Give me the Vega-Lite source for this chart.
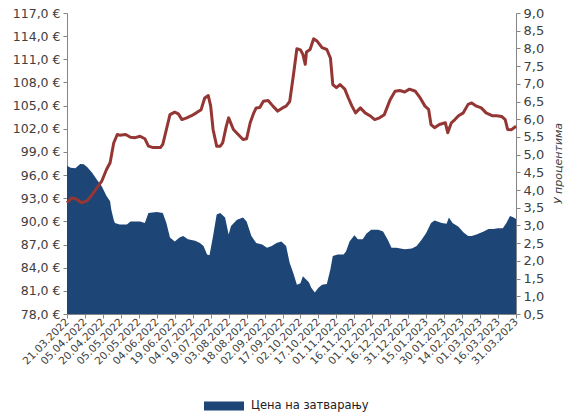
{
  "$schema": "https://vega.github.io/schema/vega-lite/v6.json",
  "autosize": {"type": "none"},
  "padding": {"left": 67, "top": 13, "right": 52, "bottom": 101},
  "width": 449,
  "height": 301,
  "background": "white",
  "config": {
    "view": {"stroke": null},
    "font": "DejaVu Sans",
    "axis": {"grid": false, "domainColor": "#868686", "tickColor": "#868686", "labelColor": "#404040", "labelFont": "DejaVu Sans", "tickSize": 4},
    "axisX": {"labelOverlap": false, "labelBound": false, "labelFlush": false}
  },
  "datasets": {
    "price": [
      {"date": "2022-03-21", "price": 97.2}, {"date": "2022-03-24", "price": 96.95}, {"date": "2022-03-28", "price": 96.9},
      {"date": "2022-04-01", "price": 97.45}, {"date": "2022-04-04", "price": 97.4}, {"date": "2022-04-07", "price": 97.0},
      {"date": "2022-04-11", "price": 96.3}, {"date": "2022-04-15", "price": 95.4}, {"date": "2022-04-19", "price": 94.55},
      {"date": "2022-04-23", "price": 93.3}, {"date": "2022-04-26", "price": 92.6}, {"date": "2022-04-27", "price": 91.5},
      {"date": "2022-04-29", "price": 90.2}, {"date": "2022-04-30", "price": 89.8}, {"date": "2022-05-04", "price": 89.6},
      {"date": "2022-05-10", "price": 89.6}, {"date": "2022-05-13", "price": 90.0}, {"date": "2022-05-21", "price": 90.0},
      {"date": "2022-05-25", "price": 89.8}, {"date": "2022-05-28", "price": 91.1}, {"date": "2022-06-04", "price": 91.2},
      {"date": "2022-06-09", "price": 91.1}, {"date": "2022-06-12", "price": 89.8}, {"date": "2022-06-15", "price": 87.9},
      {"date": "2022-06-19", "price": 87.4}, {"date": "2022-06-23", "price": 87.9}, {"date": "2022-06-26", "price": 88.1},
      {"date": "2022-06-30", "price": 87.7}, {"date": "2022-07-06", "price": 87.5}, {"date": "2022-07-10", "price": 87.2},
      {"date": "2022-07-13", "price": 86.8}, {"date": "2022-07-16", "price": 85.7}, {"date": "2022-07-18", "price": 85.6},
      {"date": "2022-07-21", "price": 88.1}, {"date": "2022-07-24", "price": 90.9}, {"date": "2022-07-27", "price": 91.1},
      {"date": "2022-07-31", "price": 90.5}, {"date": "2022-08-03", "price": 88.3}, {"date": "2022-08-05", "price": 89.4},
      {"date": "2022-08-10", "price": 90.2}, {"date": "2022-08-15", "price": 90.5}, {"date": "2022-08-18", "price": 90.0},
      {"date": "2022-08-22", "price": 88.1}, {"date": "2022-08-26", "price": 87.2}, {"date": "2022-08-31", "price": 87.0},
      {"date": "2022-09-04", "price": 86.6}, {"date": "2022-09-08", "price": 86.8}, {"date": "2022-09-12", "price": 87.2},
      {"date": "2022-09-16", "price": 87.4}, {"date": "2022-09-20", "price": 86.8}, {"date": "2022-09-23", "price": 84.6},
      {"date": "2022-09-26", "price": 83.3}, {"date": "2022-09-29", "price": 81.8}, {"date": "2022-10-02", "price": 82.0},
      {"date": "2022-10-04", "price": 82.9}, {"date": "2022-10-09", "price": 82.1}, {"date": "2022-10-11", "price": 81.4},
      {"date": "2022-10-14", "price": 80.8}, {"date": "2022-10-17", "price": 81.4}, {"date": "2022-10-20", "price": 81.8},
      {"date": "2022-10-24", "price": 81.9}, {"date": "2022-10-27", "price": 83.8}, {"date": "2022-10-29", "price": 85.5},
      {"date": "2022-11-02", "price": 85.7}, {"date": "2022-11-07", "price": 85.7}, {"date": "2022-11-09", "price": 86.1},
      {"date": "2022-11-12", "price": 87.4}, {"date": "2022-11-16", "price": 88.2}, {"date": "2022-11-19", "price": 87.7},
      {"date": "2022-11-23", "price": 87.7}, {"date": "2022-11-26", "price": 88.4}, {"date": "2022-11-30", "price": 88.9},
      {"date": "2022-12-06", "price": 88.9}, {"date": "2022-12-10", "price": 88.7}, {"date": "2022-12-14", "price": 87.6},
      {"date": "2022-12-17", "price": 86.6}, {"date": "2022-12-21", "price": 86.6}, {"date": "2022-12-28", "price": 86.4},
      {"date": "2023-01-03", "price": 86.5}, {"date": "2023-01-07", "price": 86.8}, {"date": "2023-01-11", "price": 87.6},
      {"date": "2023-01-15", "price": 88.5}, {"date": "2023-01-19", "price": 89.8}, {"date": "2023-01-22", "price": 90.1},
      {"date": "2023-01-28", "price": 89.8}, {"date": "2023-02-01", "price": 89.7}, {"date": "2023-02-03", "price": 90.5},
      {"date": "2023-02-06", "price": 89.8}, {"date": "2023-02-11", "price": 89.3}, {"date": "2023-02-15", "price": 88.6},
      {"date": "2023-02-19", "price": 88.1}, {"date": "2023-02-22", "price": 88.1}, {"date": "2023-02-26", "price": 88.3},
      {"date": "2023-03-04", "price": 88.7}, {"date": "2023-03-08", "price": 89.0}, {"date": "2023-03-12", "price": 89.0},
      {"date": "2023-03-16", "price": 89.1}, {"date": "2023-03-20", "price": 89.1}, {"date": "2023-03-23", "price": 89.8},
      {"date": "2023-03-26", "price": 90.7}, {"date": "2023-03-29", "price": 90.5}, {"date": "2023-03-31", "price": 90.3}
    ],
    "yield": [
      {"date": "2022-03-21", "y": 3.64}, {"date": "2022-03-25", "y": 3.78}, {"date": "2022-03-29", "y": 3.74},
      {"date": "2022-04-02", "y": 3.64}, {"date": "2022-04-07", "y": 3.7}, {"date": "2022-04-11", "y": 3.87},
      {"date": "2022-04-15", "y": 4.06}, {"date": "2022-04-19", "y": 4.25}, {"date": "2022-04-23", "y": 4.58},
      {"date": "2022-04-26", "y": 4.77}, {"date": "2022-04-29", "y": 5.33}, {"date": "2022-05-02", "y": 5.57},
      {"date": "2022-05-04", "y": 5.55}, {"date": "2022-05-09", "y": 5.57}, {"date": "2022-05-13", "y": 5.49},
      {"date": "2022-05-17", "y": 5.48}, {"date": "2022-05-21", "y": 5.52}, {"date": "2022-05-25", "y": 5.45},
      {"date": "2022-05-28", "y": 5.24}, {"date": "2022-06-01", "y": 5.2}, {"date": "2022-06-07", "y": 5.2},
      {"date": "2022-06-09", "y": 5.29}, {"date": "2022-06-12", "y": 5.71}, {"date": "2022-06-15", "y": 6.13},
      {"date": "2022-06-19", "y": 6.2}, {"date": "2022-06-22", "y": 6.15}, {"date": "2022-06-25", "y": 5.99},
      {"date": "2022-06-29", "y": 6.04}, {"date": "2022-07-03", "y": 6.1}, {"date": "2022-07-07", "y": 6.18},
      {"date": "2022-07-11", "y": 6.27}, {"date": "2022-07-14", "y": 6.6}, {"date": "2022-07-17", "y": 6.67},
      {"date": "2022-07-19", "y": 6.37}, {"date": "2022-07-21", "y": 5.71}, {"date": "2022-07-24", "y": 5.24},
      {"date": "2022-07-27", "y": 5.24}, {"date": "2022-07-29", "y": 5.33}, {"date": "2022-08-01", "y": 5.8},
      {"date": "2022-08-03", "y": 6.04}, {"date": "2022-08-07", "y": 5.71}, {"date": "2022-08-11", "y": 5.57},
      {"date": "2022-08-15", "y": 5.43}, {"date": "2022-08-18", "y": 5.45}, {"date": "2022-08-21", "y": 5.9},
      {"date": "2022-08-24", "y": 6.18}, {"date": "2022-08-26", "y": 6.32}, {"date": "2022-08-29", "y": 6.33},
      {"date": "2022-09-01", "y": 6.51}, {"date": "2022-09-05", "y": 6.53}, {"date": "2022-09-09", "y": 6.37},
      {"date": "2022-09-13", "y": 6.23}, {"date": "2022-09-17", "y": 6.32}, {"date": "2022-09-20", "y": 6.37},
      {"date": "2022-09-23", "y": 6.5}, {"date": "2022-09-26", "y": 7.22}, {"date": "2022-09-29", "y": 7.99},
      {"date": "2022-10-02", "y": 7.96}, {"date": "2022-10-04", "y": 7.83}, {"date": "2022-10-06", "y": 7.55},
      {"date": "2022-10-07", "y": 7.9}, {"date": "2022-10-10", "y": 7.97}, {"date": "2022-10-13", "y": 8.27},
      {"date": "2022-10-16", "y": 8.2}, {"date": "2022-10-20", "y": 8.02}, {"date": "2022-10-24", "y": 7.97},
      {"date": "2022-10-27", "y": 7.73}, {"date": "2022-10-29", "y": 6.98}, {"date": "2022-11-01", "y": 6.89},
      {"date": "2022-11-04", "y": 6.98}, {"date": "2022-11-08", "y": 6.85}, {"date": "2022-11-11", "y": 6.6},
      {"date": "2022-11-14", "y": 6.37}, {"date": "2022-11-17", "y": 6.18}, {"date": "2022-11-21", "y": 6.32},
      {"date": "2022-11-25", "y": 6.18}, {"date": "2022-11-29", "y": 6.1}, {"date": "2022-12-03", "y": 5.99},
      {"date": "2022-12-07", "y": 6.04}, {"date": "2022-12-11", "y": 6.13}, {"date": "2022-12-16", "y": 6.56},
      {"date": "2022-12-20", "y": 6.79}, {"date": "2022-12-24", "y": 6.81}, {"date": "2022-12-28", "y": 6.77},
      {"date": "2023-01-01", "y": 6.85}, {"date": "2023-01-06", "y": 6.79}, {"date": "2023-01-10", "y": 6.6},
      {"date": "2023-01-14", "y": 6.37}, {"date": "2023-01-17", "y": 6.28}, {"date": "2023-01-19", "y": 5.85},
      {"date": "2023-01-22", "y": 5.76}, {"date": "2023-01-26", "y": 5.85}, {"date": "2023-01-31", "y": 5.9},
      {"date": "2023-02-02", "y": 5.62}, {"date": "2023-02-05", "y": 5.9}, {"date": "2023-02-08", "y": 5.99},
      {"date": "2023-02-11", "y": 6.1}, {"date": "2023-02-15", "y": 6.18}, {"date": "2023-02-19", "y": 6.42},
      {"date": "2023-02-22", "y": 6.46}, {"date": "2023-02-26", "y": 6.37}, {"date": "2023-03-02", "y": 6.32},
      {"date": "2023-03-06", "y": 6.18}, {"date": "2023-03-11", "y": 6.1}, {"date": "2023-03-15", "y": 6.1},
      {"date": "2023-03-19", "y": 6.08}, {"date": "2023-03-22", "y": 5.99}, {"date": "2023-03-24", "y": 5.71},
      {"date": "2023-03-27", "y": 5.7}, {"date": "2023-03-31", "y": 5.8}
    ]
  },
  "encoding": {
    "x": {
      "field": "date", "type": "temporal",
      "scale": {"type": "utc", "domain": [{"year": 2022, "month": 3, "date": 21, "utc": true}, {"year": 2023, "month": 3, "date": 31, "utc": true}]},
      "axis": {
        "title": null,
        "values": [
          {"year": 2022, "month": 3, "date": 21, "utc": true}, {"year": 2022, "month": 4, "date": 5, "utc": true},
          {"year": 2022, "month": 4, "date": 20, "utc": true}, {"year": 2022, "month": 5, "date": 5, "utc": true},
          {"year": 2022, "month": 5, "date": 20, "utc": true}, {"year": 2022, "month": 6, "date": 4, "utc": true},
          {"year": 2022, "month": 6, "date": 19, "utc": true}, {"year": 2022, "month": 7, "date": 4, "utc": true},
          {"year": 2022, "month": 7, "date": 19, "utc": true}, {"year": 2022, "month": 8, "date": 3, "utc": true},
          {"year": 2022, "month": 8, "date": 18, "utc": true}, {"year": 2022, "month": 9, "date": 2, "utc": true},
          {"year": 2022, "month": 9, "date": 17, "utc": true}, {"year": 2022, "month": 10, "date": 2, "utc": true},
          {"year": 2022, "month": 10, "date": 17, "utc": true}, {"year": 2022, "month": 11, "date": 1, "utc": true},
          {"year": 2022, "month": 11, "date": 16, "utc": true}, {"year": 2022, "month": 12, "date": 1, "utc": true},
          {"year": 2022, "month": 12, "date": 16, "utc": true}, {"year": 2022, "month": 12, "date": 31, "utc": true},
          {"year": 2023, "month": 1, "date": 15, "utc": true}, {"year": 2023, "month": 1, "date": 30, "utc": true},
          {"year": 2023, "month": 2, "date": 14, "utc": true}, {"year": 2023, "month": 3, "date": 1, "utc": true},
          {"year": 2023, "month": 3, "date": 16, "utc": true}, {"year": 2023, "month": 3, "date": 31, "utc": true}
        ],
        "labelExpr": "utcFormat(datum.value, '%d.%m.%Y')",
        "labelAngle": -45,
        "labelAlign": "right",
        "labelBaseline": "middle",
        "labelFontSize": 10.5,
        "labelPadding": 2,
        "labelOverlap": false,
        "labelBound": false,
        "labelFlush": false,
        "tickSize": 4
      }
    }
  },
  "layer": [
    {
      "data": {"name": "price"},
      "mark": {"type": "area", "opacity": 1},
      "encoding": {
        "y": {
          "field": "price", "type": "quantitative",
          "scale": {"domain": [78, 117], "zero": false, "nice": false},
          "axis": {
            "title": null,
            "orient": "left",
            "values": [78, 81, 84, 87, 90, 93, 96, 99, 102, 105, 108, 111, 114, 117],
            "labelExpr": "replace(format(datum.value, '.1f'), '.', ',') + ' €'",
            "labelFontSize": 12.5,
            "labelPadding": 3
          }
        },
        "y2": {"datum": 78},
        "color": {
          "datum": "Цена на затварању",
          "scale": {"range": ["#1D4576"]},
          "legend": {
            "title": null,
            "orient": "none",
            "legendX": 136,
            "legendY": 372,
            "symbolType": "M-1,-0.22H1V0.22H-1Z",
            "symbolSize": 1600,
            "symbolOpacity": 1,
            "labelFontSize": 11.5,
            "labelColor": "#202020",
            "labelFont": "DejaVu Sans",
            "labelOffset": 6
          }
        }
      }
    },
    {
      "data": {"name": "yield"},
      "mark": {"type": "line", "color": "#943634", "strokeWidth": 3, "strokeJoin": "round"},
      "encoding": {
        "y": {
          "field": "y", "type": "quantitative",
          "scale": {"domain": [0.5, 9], "zero": false, "nice": false},
          "axis": {
            "title": "У процентима",
            "orient": "right",
            "values": [0.5, 1, 1.5, 2, 2.5, 3, 3.5, 4, 4.5, 5, 5.5, 6, 6.5, 7, 7.5, 8, 8.5, 9],
            "labelExpr": "replace(format(datum.value, '.1f'), '.', ',')",
            "labelFontSize": 13,
            "labelPadding": 3,
            "titleAngle": -90,
            "titleX": 42,
            "titleY": 150,
            "titleAlign": "center",
            "titleBaseline": "middle",
            "titleFontStyle": "italic",
            "titleFontWeight": "normal",
            "titleFontSize": 11,
            "titleColor": "#404040"
          }
        }
      }
    }
  ],
  "resolve": {"scale": {"y": "independent"}}
}
